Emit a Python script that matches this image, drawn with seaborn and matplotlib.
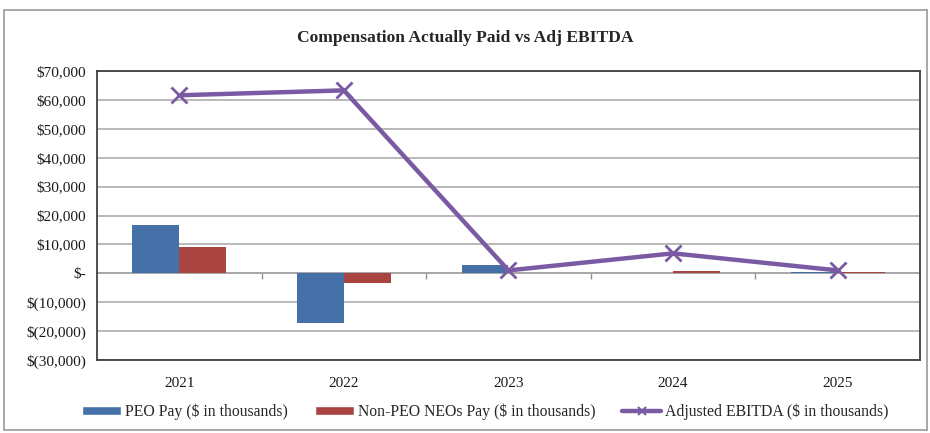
import pandas as pd
import matplotlib
matplotlib.use("Agg")
import matplotlib.pyplot as plt
from matplotlib.patches import Patch, Rectangle
from matplotlib.lines import Line2D
from matplotlib.ticker import FuncFormatter, FixedLocator, NullFormatter
import seaborn as sns

# --- Data ($ in thousands) ---
years = ["2021", "2022", "2023", "2024", "2025"]
peo_pay = [16700, -17300, 2800, 100, 300]
non_peo_pay = [9000, -3300, 100, 800, 500]
adj_ebitda = [61600, 63300, 1000, 6900, 1000]

peo_label = "PEO Pay ($ in thousands)"
non_peo_label = "Non-PEO NEOs Pay ($ in thousands)"
ebitda_label = "Adjusted EBITDA ($ in thousands)"

colors = {peo_label: "#4571A8", non_peo_label: "#A94441"}
line_color = "#7A5AA3"

bars = pd.DataFrame({
    "year": years * 2,
    "value": peo_pay + non_peo_pay,
    "series": [peo_label] * len(years) + [non_peo_label] * len(years),
})

# --- Style ---
sns.set_theme(style="white")
plt.rcParams["font.family"] = ["Liberation Serif", "DejaVu Serif"]

fig = plt.figure(figsize=(9.3, 4.33), dpi=100)
ax = fig.add_axes([0.1043, 0.1686, 0.8849, 0.6674])

sns.barplot(data=bars, x="year", y="value", hue="series", order=years,
            palette=colors, width=0.57, gap=0, saturation=1,
            edgecolor="none", legend=False, ax=ax)
sns.pointplot(x=years, y=adj_ebitda, order=years, color=line_color,
              markers="x", linewidth=3.2, markersize=11, markeredgewidth=2,
              errorbar=None, ax=ax)

ax.set_ylim(-30000, 70000)
ax.set_xlim(-0.5, 4.5)
ax.set_yticks(range(-30000, 70001, 10000))


def money(v, pos):
    if v == 0:
        return "$-"
    if v < 0:
        return f"$({-v:,.0f})"
    return f"${v:,.0f}"


ax.yaxis.set_major_formatter(FuncFormatter(money))
ax.grid(axis="y", color="#A6A6A6", linewidth=1.1)
ax.set_axisbelow(True)
ax.set_xlabel("")
ax.set_ylabel("")
ax.tick_params(axis="y", length=0, pad=8, labelsize=11, labelcolor="#1a1a1a")
ax.tick_params(axis="x", length=0, pad=12, labelsize=11, labelcolor="#1a1a1a")
for s in ax.spines.values():
    s.set_color("#404040")
    s.set_linewidth(1.3)
    s.set_visible(True)

# category separators on the zero line
zero_axis = ax.secondary_xaxis(0.3)
zero_axis.xaxis.set_major_locator(FixedLocator([0.5, 1.5, 2.5, 3.5]))
zero_axis.xaxis.set_major_formatter(NullFormatter())
zero_axis.tick_params(axis="x", direction="out", length=4, color="#909090", width=1)
zero_axis.spines["bottom"].set_color("#A6A6A6")

fig.text(0.5, 0.912, "Compensation Actually Paid vs Adj EBITDA",
         ha="center", va="center", fontsize=12.6, fontweight="bold")

handles = [
    Patch(facecolor=colors[peo_label], label=peo_label),
    Patch(facecolor=colors[non_peo_label], label=non_peo_label),
    Line2D([0], [0], color=line_color, lw=3.2, marker="x", markersize=6,
           markeredgewidth=1.5, label=ebitda_label),
]
fig.legend(handles=handles, loc="center", bbox_to_anchor=(0.522, 0.048),
           ncol=3, frameon=False, fontsize=11.3, handlelength=2.5,
           handleheight=0.5, handletextpad=0.25, columnspacing=1.7)

fig.patches.append(Rectangle((0.0043, 0.007), 0.9925, 0.97,
                             transform=fig.transFigure, fill=False,
                             edgecolor="#9A9A9A", linewidth=1.2))

fig.savefig("out.png", dpi=100)
